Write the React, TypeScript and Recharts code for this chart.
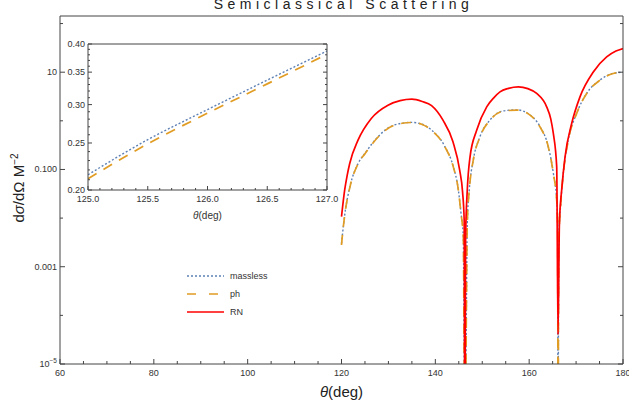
import { LineChart, Line, XAxis, YAxis, Label, Legend } from 'recharts'

// scattering angle samples (deg) and cross sections
const rnTheta = [120, 120.68, 121.2, 121.75, 123.52, 126.35, 129.91, 132.5, 135, 137.2, 139.2, 141.63, 143.76, 145.19, 145.8, 146.15, 146.3, 146.45, 146.81, 147.39, 148.81, 150.95, 152.5, 153.78, 155.6, 157.69, 159.7, 161.6, 163.73, 164.6, 165.15, 165.87, 166.15, 166.45, 166.93, 167.64, 169.06, 170.83, 173.67, 176.52, 178.5, 180]
const rnCross = [0.0107, 0.038, 0.075, 0.133, 0.4, 1.12, 2.1, 2.6, 2.79, 2.5, 2.05, 1.03, 0.37, 0.097, 0.035, 0.009, 1e-7, 0.004, 0.038, 0.18, 0.64, 1.94, 3.0, 3.94, 4.65, 4.99, 4.6, 3.65, 1.94, 1.1, 0.55, 0.113, 4e-5, 0.008, 0.038, 0.18, 0.88, 3.11, 10.1, 20.6, 27.2, 30.7]

const phTheta = [120, 120.17, 120.74, 121.81, 123.58, 125, 126.5, 128.3, 131.3, 134.96, 137.2, 139.2, 142.06, 143.83, 144.9, 145.47, 145.96, 146.3, 146.81, 147.24, 148.09, 149.52, 151.65, 154.49, 157.34, 160.18, 162.31, 164.08, 165.15, 165.87, 166.08, 166.15, 166.3, 166.78, 167.28, 168.34, 170.13, 172.26, 175.1, 177.93, 180]
const masslessCross = [0.003, 0.0043, 0.0127, 0.045, 0.135, 0.215, 0.337, 0.53, 0.825, 0.93, 0.85, 0.645, 0.292, 0.114, 0.0385, 0.0127, 0.0042, 1e-7, 0.0079, 0.0385, 0.158, 0.475, 1.04, 1.6, 1.68, 1.32, 0.76, 0.293, 0.084, 0.0233, 0.0067, 1e-7, 0.003, 0.0233, 0.084, 0.405, 1.43, 3.68, 6.9, 9.5, 10]
const phCross = [0.0028, 0.0042, 0.0125, 0.044, 0.133, 0.211, 0.331, 0.52, 0.815, 0.925, 0.84, 0.64, 0.29, 0.113, 0.038, 0.0125, 0.0041, 1e-7, 0.0078, 0.038, 0.156, 0.47, 1.03, 1.58, 1.66, 1.31, 0.75, 0.29, 0.083, 0.023, 0.0066, 1e-7, 0.003, 0.023, 0.083, 0.4, 1.42, 3.65, 6.85, 9.4, 9.9]

const insetTheta = [125, 125.5, 126, 126.5, 127]
const insetMassless = [0.215, 0.254, 0.293, 0.337, 0.387]
const insetPh = [0.211, 0.249, 0.288, 0.331, 0.381]

const xMajorTicks = [60, 80, 100, 120, 140, 160, 180]
const xMinorTicks = [65, 70, 75, 85, 90, 95, 105, 110, 115, 125, 130, 135, 145, 150, 155, 165, 170, 175]
const yMajorTicks = [1e-5, 0.001, 0.1, 10]
const yMinorTicks = [1e-4, 0.01, 1, 100]
const insetXMajor = [125, 125.5, 126, 126.5, 127]
const insetXMinor = [125.1, 125.2, 125.3, 125.4, 125.6, 125.7, 125.8, 125.9, 126.1, 126.2, 126.3, 126.4, 126.6, 126.7, 126.8, 126.9]
const insetYMajor = [0.2, 0.25, 0.3, 0.35, 0.4]
const insetYMinor = [0.21, 0.22, 0.23, 0.24, 0.26, 0.27, 0.28, 0.29, 0.31, 0.32, 0.33, 0.34, 0.36, 0.37, 0.38, 0.39]

const series = [
  { key: 'massless', color: '#5E81B5', dash: '2 2', width: 1.4 },
  { key: 'ph', color: '#E19C24', dash: '10 8', width: 1.7 },
  { key: 'RN', color: '#FF0000', dash: undefined, width: 1.7 },
]

const toRows = (theta: number[], values: number[]) => theta.map((t, i) => ({ theta: t, value: values[i] }))

const masslessData = toRows(phTheta, masslessCross)
const phData = toRows(phTheta, phCross)
const rnData = toRows(rnTheta, rnCross)
const insetMasslessData = toRows(insetTheta, insetMassless)
const insetPhData = toRows(insetTheta, insetPh)

const font = '"Liberation Sans", Arial, Helvetica, sans-serif'
const axisColor = '#444'
const textColor = '#333'

const sorted = (a: number[], b: number[]) => [...a, ...b].sort((p, q) => p - q)

function makeTick(side: 'bottom' | 'top' | 'left' | 'right', majors: number[], majorLen: number, minorLen: number, format?: (v: number) => any) {
  return (props: any) => {
    const { x, y, payload } = props
    const v = payload.value
    const major = majors.includes(v)
    const len = major ? majorLen : minorLen
    let line
    if (side === 'bottom') line = <line x1={x} y1={y} x2={x} y2={y - len} stroke={axisColor} />
    else if (side === 'top') line = <line x1={x} y1={y} x2={x} y2={y + len} stroke={axisColor} />
    else if (side === 'left') line = <line x1={x} y1={y} x2={x + len} y2={y} stroke={axisColor} />
    else line = <line x1={x} y1={y} x2={x - len} y2={y} stroke={axisColor} />
    let label = null
    if (major && format) {
      if (side === 'bottom') {
        label = <text x={x} y={y + 12} textAnchor="middle" fontSize={9} fontFamily={font} fill={textColor}>{format(v)}</text>
      } else if (side === 'left') {
        label = <text x={x - 3} y={y + 3} textAnchor="end" fontSize={9} fontFamily={font} fill={textColor}>{format(v)}</text>
      }
    }
    return <g>{line}{label}</g>
  }
}

const mainYFormat = (v: number) => {
  if (v === 1e-5) return <>10<tspan dy={-4} fontSize={6.5}>−5</tspan></>
  if (v === 10) return '10'
  if (v === 0.1) return '0.100'
  return '0.001'
}

export default function App() {
  return (
    <div style={{ position: 'absolute', left: 0, top: 0, width: 629, height: 410, background: '#fff' }}>
      <LineChart width={629} height={410} margin={{ top: 15, right: 5, bottom: 0, left: 0 }}>
        <XAxis dataKey="theta" type="number" domain={[60, 180]} allowDataOverflow ticks={sorted(xMajorTicks, xMinorTicks)} interval={0}
          height={46} tickSize={0} tickMargin={0} stroke={axisColor} tick={makeTick('bottom', xMajorTicks, 5, 3, (v) => v)}>
          <Label content={({ viewBox }: any) => (
            <text x={viewBox.x + viewBox.width / 2} y={viewBox.y + 33} textAnchor="middle" fontSize={15} fontFamily={font} fill="#222">
              <tspan fontStyle="italic">θ</tspan>(deg)
            </text>
          )} />
        </XAxis>
        <XAxis xAxisId="top" orientation="top" type="number" domain={[60, 180]} allowDataOverflow ticks={sorted(xMajorTicks, xMinorTicks)} interval={0}
          height={1} tickSize={0} tickMargin={0} stroke={axisColor} tick={makeTick('top', xMajorTicks, 5, 3)}>
          <Label content={({ viewBox }: any) => (
            <text x={viewBox.x + viewBox.width / 2 + 2} y={9} textAnchor="middle" fontSize={14} letterSpacing={4.5} fontFamily={font} fill="#222">
              Semiclassical Scattering
            </text>
          )} />
        </XAxis>
        <YAxis scale="log" type="number" domain={[1e-5, 143]} allowDataOverflow ticks={sorted(yMajorTicks, yMinorTicks)} interval={0}
          width={60} tickSize={0} tickMargin={0} stroke={axisColor} tick={makeTick('left', yMajorTicks, 5, 3, mainYFormat)}>
          <Label content={({ viewBox }: any) => {
            const cx = viewBox.x + 24
            const cy = viewBox.y + viewBox.height / 2 - 2
            return (
              <text x={cx} y={cy} transform={`rotate(-90 ${cx} ${cy})`} textAnchor="middle" fontSize={15} fontFamily={font} fill="#222">
                d<tspan fontStyle="italic">σ</tspan>/dΩ M<tspan dy={-6} fontSize={10}>−2</tspan>
              </text>
            )
          }} />
        </YAxis>
        <YAxis yAxisId="right" orientation="right" scale="log" type="number" domain={[1e-5, 143]} allowDataOverflow ticks={sorted(yMajorTicks, yMinorTicks)} interval={0}
          width={1} tickSize={0} tickMargin={0} stroke={axisColor} tick={makeTick('right', yMajorTicks, 5, 3)} />
        <Line data={masslessData} dataKey="value" name="massless" type="monotone" stroke={series[0].color} strokeWidth={series[0].width}
          strokeDasharray={series[0].dash} dot={false} activeDot={false} isAnimationActive={false} />
        <Line data={phData} dataKey="value" name="ph" type="monotone" stroke={series[1].color} strokeWidth={series[1].width}
          strokeDasharray={series[1].dash} dot={false} activeDot={false} isAnimationActive={false} />
        <Line data={rnData} dataKey="value" name="RN" type="monotone" stroke={series[2].color} strokeWidth={series[2].width}
          dot={false} activeDot={false} isAnimationActive={false} />
        <Legend layout="vertical" align="center" verticalAlign="middle"
          wrapperStyle={{ left: 185, top: 266, width: 110, height: 56 }}
          content={() => (
            <svg width={110} height={56}>
              {series.map((s, i) => (
                <g key={s.key}>
                  <line x1={2} x2={39} y1={10 + i * 18} y2={10 + i * 18} stroke={s.color} strokeWidth={s.width} strokeDasharray={s.key === 'ph' ? '9 13' : s.dash} />
                  <text x={45} y={13 + i * 18} fontSize={9} fontFamily={font} fill={textColor}>{s.key}</text>
                </g>
              ))}
            </svg>
          )} />
      </LineChart>

      <div style={{ position: 'absolute', left: 50, top: 36 }}>
        <LineChart width={290} height={190} margin={{ top: 7, right: 12, bottom: 0, left: 0 }}>
          <XAxis dataKey="theta" type="number" domain={[125, 127]} allowDataOverflow ticks={sorted(insetXMajor, insetXMinor)} interval={0}
            height={36} tickSize={0} tickMargin={0} stroke={axisColor} tick={makeTick('bottom', insetXMajor, 4, 2, (v) => v.toFixed(1))}>
            <Label content={({ viewBox }: any) => (
              <text x={viewBox.x + viewBox.width / 2} y={viewBox.y + 29} textAnchor="middle" fontSize={10} fontFamily={font} fill={textColor}>
                <tspan fontStyle="italic">θ</tspan>(deg)
              </text>
            )} />
          </XAxis>
          <XAxis xAxisId="top" orientation="top" type="number" domain={[125, 127]} allowDataOverflow ticks={sorted(insetXMajor, insetXMinor)} interval={0}
            height={1} tickSize={0} tickMargin={0} stroke={axisColor} tick={makeTick('top', insetXMajor, 4, 2)} />
          <YAxis scale="log" type="number" domain={[0.2, 0.4]} allowDataOverflow ticks={sorted(insetYMajor, insetYMinor)} interval={0}
            width={38} tickSize={0} tickMargin={0} stroke={axisColor} tick={makeTick('left', insetYMajor, 4, 2, (v) => v.toFixed(2))} />
          <YAxis yAxisId="right" orientation="right" scale="log" type="number" domain={[0.2, 0.4]} allowDataOverflow ticks={sorted(insetYMajor, insetYMinor)} interval={0}
            width={1} tickSize={0} tickMargin={0} stroke={axisColor} tick={makeTick('right', insetYMajor, 4, 2)} />
          <Line data={insetMasslessData} dataKey="value" type="monotone" stroke={series[0].color} strokeWidth={series[0].width}
            strokeDasharray={series[0].dash} dot={false} activeDot={false} isAnimationActive={false} />
          <Line data={insetPhData} dataKey="value" type="monotone" stroke={series[1].color} strokeWidth={series[1].width}
            strokeDasharray={series[1].dash} dot={false} activeDot={false} isAnimationActive={false} />
        </LineChart>
      </div>
    </div>
  )
}
